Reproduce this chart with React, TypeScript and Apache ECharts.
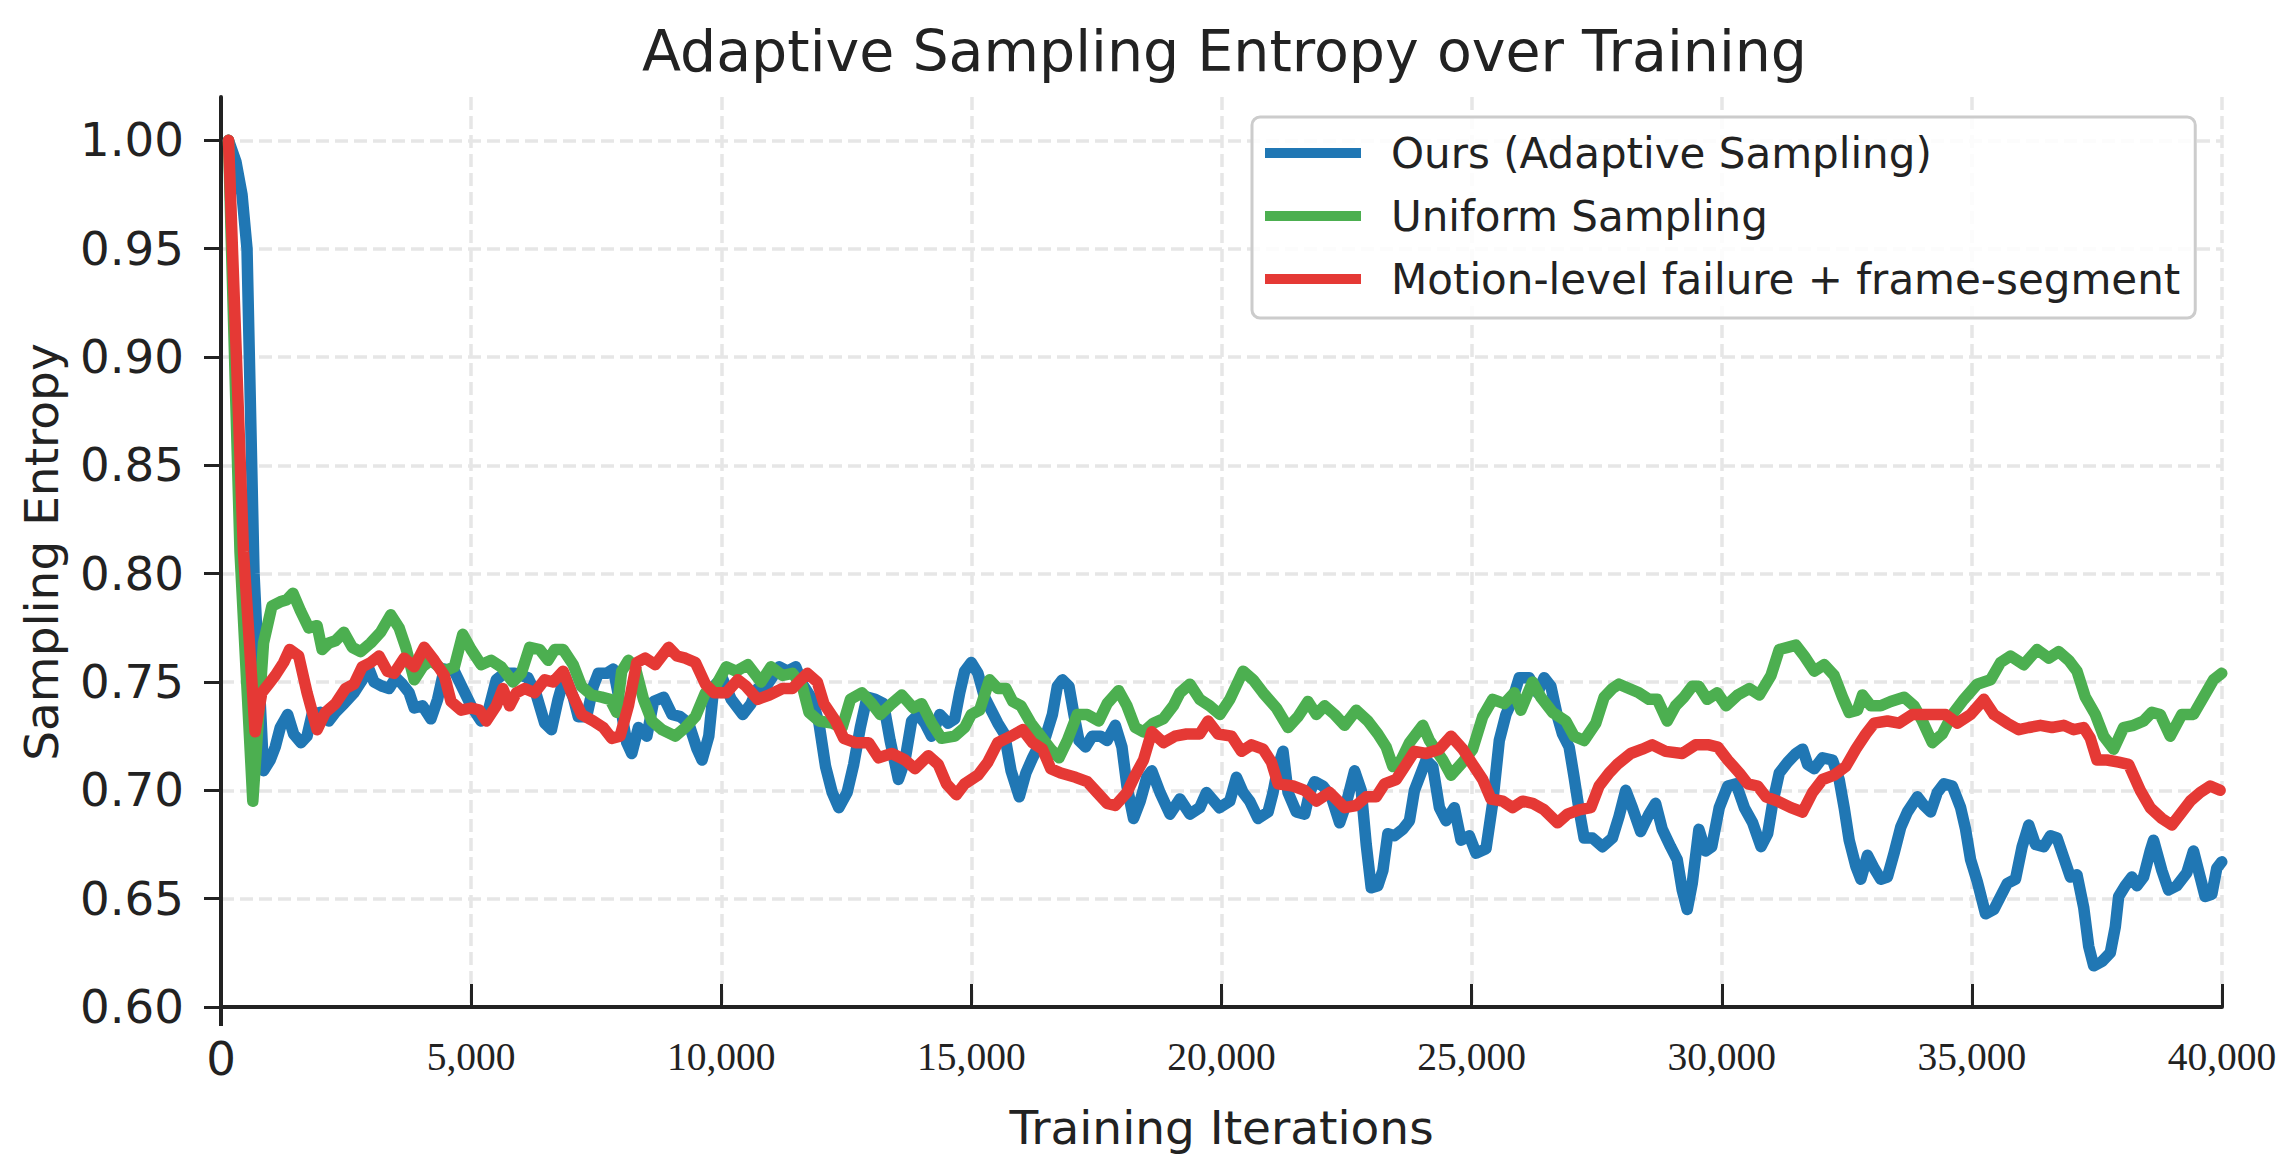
import React, { useEffect, useRef } from "react";
import * as echarts from "echarts";

const TITLE = "Adaptive Sampling Entropy over Training";
const X_NAME = "Training Iterations";
const Y_NAME = "Sampling Entropy";
const SERIES_NAMES = ["Ours (Adaptive Sampling)", "Uniform Sampling", "Motion-level failure + frame-segment"];
const COLORS = ["#2077b4", "#4caf50", "#e53935"];
const Y_TICKS = [0.6, 0.65, 0.7, 0.75, 0.8, 0.85, 0.9, 0.95, 1.0];

const oursIter = [150,300,420,520,660,850,984,1084,1185,1332,1452,1600,1720,1820,1988,2155,2289,2456,2657,2824,2958,3059,3226,3360,3494,3627,3761,3862,4029,4196,4330,4464,4665,4832,5000,5200,5334,5502,5669,5869,6137,6304,6471,6605,6739,6873,7040,7141,7308,7442,7542,7709,7843,7977,8111,8211,8345,8513,8647,8848,9015,9182,9349,9517,9617,9751,9851,10019,10199,10430,10596,10728,10927,11159,11324,11489,11622,11821,11953,12085,12218,12350,12516,12648,12780,12913,13078,13244,13376,13542,13674,13806,13939,14071,14204,14369,14535,14667,14766,14866,14998,15131,15263,15395,15528,15661,15793,15958,16090,16223,16355,16487,16620,16719,16819,16951,17050,17150,17282,17414,17580,17712,17878,18010,18110,18242,18374,18507,18606,18771,18970,19169,19368,19566,19699,19850,19960,20166,20299,20432,20565,20731,20931,21031,21131,21230,21330,21496,21663,21762,21862,22028,22195,22361,22494,22660,22793,22893,22993,23126,23226,23325,23458,23624,23757,23857,23990,24090,24223,24356,24489,24655,24788,24954,25087,25287,25420,25553,25686,25819,25952,26151,26318,26451,26584,26717,26816,26949,27049,27149,27249,27415,27615,27814,27947,28080,28213,28379,28545,28678,28811,28977,29110,29210,29310,29410,29543,29676,29800,29950,30120,30286,30452,30618,30785,30918,31017,31150,31317,31483,31616,31716,31849,32015,32215,32347,32447,32547,32680,32780,32913,33046,33179,33312,33445,33578,33711,33910,34043,34176,34309,34442,34608,34775,34874,34974,35107,35273,35440,35573,35706,35872,36005,36138,36271,36437,36570,36703,36836,36969,37102,37235,37335,37435,37601,37767,37867,37934,38066,38199,38299,38432,38565,38632,38798,38931,39097,39297,39430,39563,39663,39796,39895,39995];
const oursEntropy = [1.0,0.99,0.975,0.95,0.8,0.709,0.714,0.72,0.729,0.735,0.726,0.722,0.725,0.735,0.736,0.732,0.736,0.74,0.745,0.751,0.756,0.75,0.748,0.747,0.752,0.749,0.745,0.738,0.739,0.733,0.742,0.756,0.755,0.747,0.739,0.732,0.736,0.751,0.754,0.754,0.752,0.744,0.731,0.728,0.742,0.753,0.743,0.734,0.734,0.748,0.754,0.754,0.756,0.74,0.722,0.717,0.729,0.725,0.741,0.743,0.735,0.734,0.731,0.719,0.714,0.725,0.748,0.752,0.742,0.735,0.74,0.747,0.749,0.757,0.755,0.757,0.749,0.742,0.731,0.711,0.699,0.692,0.699,0.712,0.729,0.743,0.742,0.74,0.723,0.705,0.714,0.732,0.735,0.731,0.725,0.735,0.731,0.733,0.745,0.755,0.759,0.754,0.743,0.737,0.731,0.726,0.709,0.697,0.708,0.715,0.721,0.725,0.735,0.748,0.751,0.748,0.735,0.723,0.72,0.725,0.725,0.723,0.73,0.72,0.702,0.687,0.695,0.706,0.709,0.699,0.689,0.696,0.689,0.692,0.699,0.695,0.692,0.695,0.706,0.699,0.695,0.687,0.69,0.699,0.711,0.718,0.699,0.69,0.689,0.699,0.704,0.702,0.697,0.685,0.694,0.709,0.7,0.675,0.655,0.656,0.663,0.68,0.679,0.682,0.686,0.7,0.708,0.714,0.711,0.692,0.686,0.692,0.677,0.679,0.671,0.673,0.694,0.723,0.735,0.742,0.752,0.752,0.745,0.752,0.748,0.734,0.726,0.72,0.706,0.691,0.678,0.678,0.674,0.678,0.688,0.7,0.692,0.681,0.689,0.694,0.682,0.674,0.668,0.654,0.645,0.657,0.682,0.672,0.674,0.692,0.702,0.703,0.692,0.685,0.674,0.68,0.694,0.708,0.713,0.717,0.719,0.712,0.71,0.715,0.714,0.705,0.692,0.677,0.665,0.659,0.67,0.664,0.659,0.66,0.671,0.683,0.69,0.697,0.693,0.69,0.699,0.703,0.702,0.692,0.682,0.668,0.658,0.643,0.645,0.651,0.657,0.659,0.674,0.684,0.675,0.674,0.679,0.678,0.669,0.66,0.661,0.646,0.628,0.619,0.621,0.625,0.637,0.651,0.656,0.66,0.656,0.66,0.672,0.677,0.663,0.654,0.656,0.662,0.672,0.66,0.651,0.652,0.664,0.667];

const uniformIter = [150,380,636,850,1017,1185,1318,1439,1586,1753,1921,2021,2155,2289,2456,2624,2791,2992,3192,3393,3561,3694,3862,4029,4196,4464,4665,4832,5000,5200,5400,5600,5835,6003,6170,6370,6538,6672,6839,7040,7207,7408,7609,7776,7910,8010,8144,8278,8446,8613,8814,9081,9282,9483,9684,9885,10099,10298,10530,10794,10993,11225,11423,11622,11754,11953,12218,12416,12582,12814,13012,13178,13409,13608,13840,14005,14204,14402,14667,14866,14998,15164,15362,15528,15693,15826,15992,16190,16389,16587,16752,16918,17117,17315,17547,17713,17944,18110,18275,18441,18639,18838,19037,19169,19368,19566,19765,19967,20166,20432,20632,20831,21097,21330,21530,21729,21895,22062,22261,22461,22693,22926,23126,23292,23425,23591,23758,24024,24156,24423,24589,24822,25021,25221,25420,25653,25852,25985,26218,26384,26617,26883,27049,27249,27482,27648,27814,27947,28146,28346,28545,28711,28911,29077,29243,29410,29543,29709,29909,30086,30319,30552,30751,30984,31150,31317,31483,31649,31849,32049,32248,32414,32547,32713,32813,32979,33179,33378,33644,33844,34010,34209,34409,34609,34841,35107,35373,35573,35772,36038,36304,36537,36736,36936,37102,37268,37468,37634,37834,38033,38233,38432,38598,38765,38964,39197,39430,39630,39829,39995];
const uniformEntropy = [1.0,0.81,0.695,0.768,0.785,0.787,0.788,0.791,0.783,0.775,0.776,0.765,0.768,0.769,0.773,0.766,0.764,0.768,0.773,0.781,0.775,0.766,0.751,0.757,0.76,0.755,0.757,0.772,0.765,0.758,0.76,0.757,0.75,0.754,0.766,0.765,0.76,0.765,0.765,0.758,0.748,0.744,0.743,0.742,0.736,0.755,0.76,0.757,0.742,0.732,0.728,0.725,0.729,0.734,0.745,0.748,0.757,0.755,0.758,0.75,0.757,0.753,0.754,0.748,0.736,0.732,0.731,0.729,0.742,0.745,0.74,0.735,0.74,0.744,0.738,0.74,0.731,0.724,0.725,0.729,0.735,0.737,0.751,0.747,0.747,0.741,0.739,0.731,0.725,0.719,0.715,0.723,0.735,0.735,0.732,0.74,0.746,0.739,0.729,0.727,0.731,0.733,0.739,0.745,0.749,0.742,0.739,0.735,0.742,0.755,0.751,0.745,0.738,0.729,0.734,0.741,0.735,0.739,0.735,0.73,0.737,0.732,0.726,0.72,0.711,0.714,0.722,0.73,0.723,0.714,0.707,0.713,0.719,0.734,0.742,0.74,0.745,0.737,0.75,0.743,0.736,0.732,0.725,0.723,0.731,0.743,0.747,0.749,0.747,0.745,0.742,0.742,0.732,0.739,0.743,0.748,0.748,0.742,0.745,0.739,0.744,0.747,0.744,0.753,0.765,0.766,0.767,0.762,0.755,0.758,0.753,0.743,0.736,0.737,0.744,0.739,0.739,0.741,0.743,0.739,0.732,0.722,0.726,0.735,0.742,0.749,0.751,0.759,0.762,0.758,0.765,0.761,0.764,0.76,0.755,0.743,0.735,0.725,0.719,0.729,0.73,0.732,0.736,0.735,0.725,0.735,0.735,0.743,0.751,0.754];

const motionIter = [150,450,682,816,950,1084,1252,1372,1553,1720,1921,2088,2289,2490,2657,2824,2992,3159,3326,3460,3661,3862,4062,4263,4464,4598,4799,5000,5167,5301,5502,5635,5769,5903,6070,6270,6471,6639,6839,7007,7208,7442,7642,7810,7977,8144,8311,8479,8680,8948,9115,9283,9483,9684,9852,10099,10331,10497,10728,10960,11225,11423,11589,11721,11920,12052,12284,12449,12681,12946,13145,13409,13674,13873,14138,14336,14502,14700,14866,15131,15329,15528,15793,16024,16223,16421,16587,16786,17083,17315,17514,17713,17878,18110,18275,18441,18606,18838,19069,19301,19566,19731,19930,20200,20399,20599,20831,20998,21131,21430,21663,21895,22161,22461,22693,22893,23092,23259,23492,23691,23857,24090,24356,24589,24822,25021,25221,25387,25620,25819,26019,26218,26451,26717,26916,27149,27382,27548,27748,27914,28180,28412,28612,28878,29210,29476,29742,29920,30120,30352,30519,30718,30884,31117,31383,31616,31815,32015,32248,32480,32680,32880,33046,33312,33544,33810,34110,34475,34708,34974,35240,35440,35706,35938,36138,36371,36603,36836,37036,37235,37368,37501,37701,37934,38133,38366,38565,38798,38998,39164,39364,39563,39763,39962];
const motionEntropy = [1.0,0.81,0.727,0.745,0.749,0.753,0.759,0.765,0.762,0.745,0.728,0.736,0.74,0.747,0.749,0.757,0.759,0.762,0.755,0.754,0.761,0.757,0.766,0.76,0.753,0.741,0.737,0.738,0.737,0.732,0.739,0.747,0.739,0.745,0.747,0.745,0.751,0.75,0.755,0.745,0.735,0.732,0.729,0.724,0.725,0.739,0.759,0.761,0.758,0.766,0.762,0.761,0.759,0.749,0.745,0.745,0.751,0.748,0.742,0.744,0.747,0.747,0.751,0.754,0.75,0.74,0.732,0.724,0.722,0.722,0.715,0.717,0.714,0.71,0.716,0.712,0.703,0.698,0.703,0.707,0.713,0.722,0.725,0.728,0.722,0.719,0.71,0.708,0.706,0.704,0.699,0.694,0.693,0.699,0.707,0.714,0.727,0.722,0.725,0.726,0.726,0.732,0.726,0.725,0.718,0.721,0.719,0.713,0.703,0.702,0.7,0.695,0.699,0.692,0.693,0.697,0.697,0.703,0.705,0.712,0.718,0.717,0.719,0.725,0.719,0.712,0.705,0.696,0.695,0.692,0.695,0.694,0.691,0.685,0.689,0.691,0.692,0.702,0.708,0.712,0.717,0.719,0.721,0.718,0.717,0.721,0.721,0.72,0.714,0.708,0.703,0.702,0.697,0.695,0.692,0.69,0.699,0.705,0.707,0.711,0.719,0.726,0.731,0.732,0.731,0.735,0.735,0.735,0.731,0.735,0.742,0.735,0.731,0.728,0.729,0.73,0.729,0.73,0.728,0.729,0.724,0.714,0.714,0.713,0.712,0.7,0.692,0.687,0.684,0.689,0.695,0.699,0.702,0.7];

const pairs = (xs: number[], ys: number[]) => xs.map((x, i) => [x, ys[i]]);

const SANS = "DejaVu Sans";
const SERIF = "Liberation Serif";
const INK = "#222222";

export default function App() {
  const ref = useRef<HTMLDivElement>(null);
  useEffect(() => {
    if (!ref.current) return;
    const chart = echarts.init(ref.current, null, { renderer: "svg" });
    const gridLine = { show: true, lineStyle: { color: "#e6e6e6", width: 3.5, type: [13, 6] as any } };
    const seriesData = [pairs(oursIter, oursEntropy), pairs(uniformIter, uniformEntropy), pairs(motionIter, motionEntropy)];
    const option: any = {
      animation: false,
      backgroundColor: "#ffffff",
      title: {
        text: TITLE,
        left: 642,
        top: 20,
        padding: 0,
        textStyle: { fontFamily: SANS, fontSize: 57, fontWeight: "normal", color: INK, lineHeight: 62 },
      },
      legend: {
        orient: "vertical",
        left: 1252,
        top: 117,
        icon: "rect",
        itemWidth: 96,
        itemHeight: 10,
        itemGap: 21,
        padding: [15, 15, 18, 13],
        borderColor: "#cccccc",
        borderWidth: 3,
        borderRadius: 8,
        backgroundColor: "rgba(255,255,255,0.85)",
        textStyle: { fontFamily: SANS, fontSize: 42, color: INK, lineHeight: 42, padding: [0, 0, 0, 25] },
        data: SERIES_NAMES,
      },
      grid: { left: 221, right: 67, top: 97, bottom: 155, containLabel: false },
      xAxis: {
        type: "value",
        min: 0,
        max: 40000,
        interval: 5000,
        name: X_NAME,
        nameLocation: "middle",
        nameGap: 92,
        nameTextStyle: { fontFamily: SANS, fontSize: 47, color: INK, lineHeight: 56 },
        axisLine: { show: true, lineStyle: { color: INK, width: 4 } },
        axisTick: { show: true, inside: true, length: 23, lineStyle: { color: INK, width: 3 } },
        axisLabel: {
          margin: 28,
          color: INK,
          formatter: (v: number) => (v === 0 ? "{z|0}" : "{s|" + v.toLocaleString("en-US") + "}"),
          rich: {
            z: { fontFamily: SANS, fontSize: 46.7, color: INK, lineHeight: 48 },
            s: { fontFamily: SERIF, fontSize: 39.5, color: INK, lineHeight: 44 },
          },
        },
        splitLine: gridLine,
      },
      yAxis: {
        type: "value",
        min: 0.6,
        max: 1.02,
        interval: 0.05,
        name: Y_NAME,
        nameLocation: "middle",
        nameGap: 152,
        nameRotate: 90,
        nameTextStyle: { fontFamily: SANS, fontSize: 47, color: INK, lineHeight: 56 },
        axisLine: { show: true, lineStyle: { color: INK, width: 4 } },
        axisTick: { show: true, inside: false, length: 17, lineStyle: { color: INK, width: 3 }, customValues: Y_TICKS },
        axisLabel: {
          margin: 37,
          fontFamily: SANS,
          fontSize: 46.7,
          color: INK,
          customValues: Y_TICKS,
          formatter: (v: number) => v.toFixed(2),
        },
        splitLine: gridLine,
      },
      series: SERIES_NAMES.map((name, i) => ({
        name,
        type: "line",
        data: seriesData[i],
        showSymbol: false,
        symbol: "none",
        color: COLORS[i],
        lineStyle: { width: 11.5, color: COLORS[i], cap: "round", join: "round" },
        z: 2 + i,
      })),
    };
    chart.setOption(option);
    const p = chart.convertToPixel({ gridIndex: 0 }, [0, 0.6]) as number[];
    if (p) {
      chart.setOption({
        graphic: [
          {
            type: "line",
            shape: { x1: p[0], y1: p[1], x2: p[0], y2: p[1] + 19 },
            style: { stroke: INK, lineWidth: 4 },
            z: 10,
          },
        ],
      });
    }
    return () => chart.dispose();
  }, []);
  return (
    <div
      ref={ref}
      style={{ position: "fixed", left: 0, top: 0, width: 2289, height: 1162, background: "#fff" }}
    />
  );
}
